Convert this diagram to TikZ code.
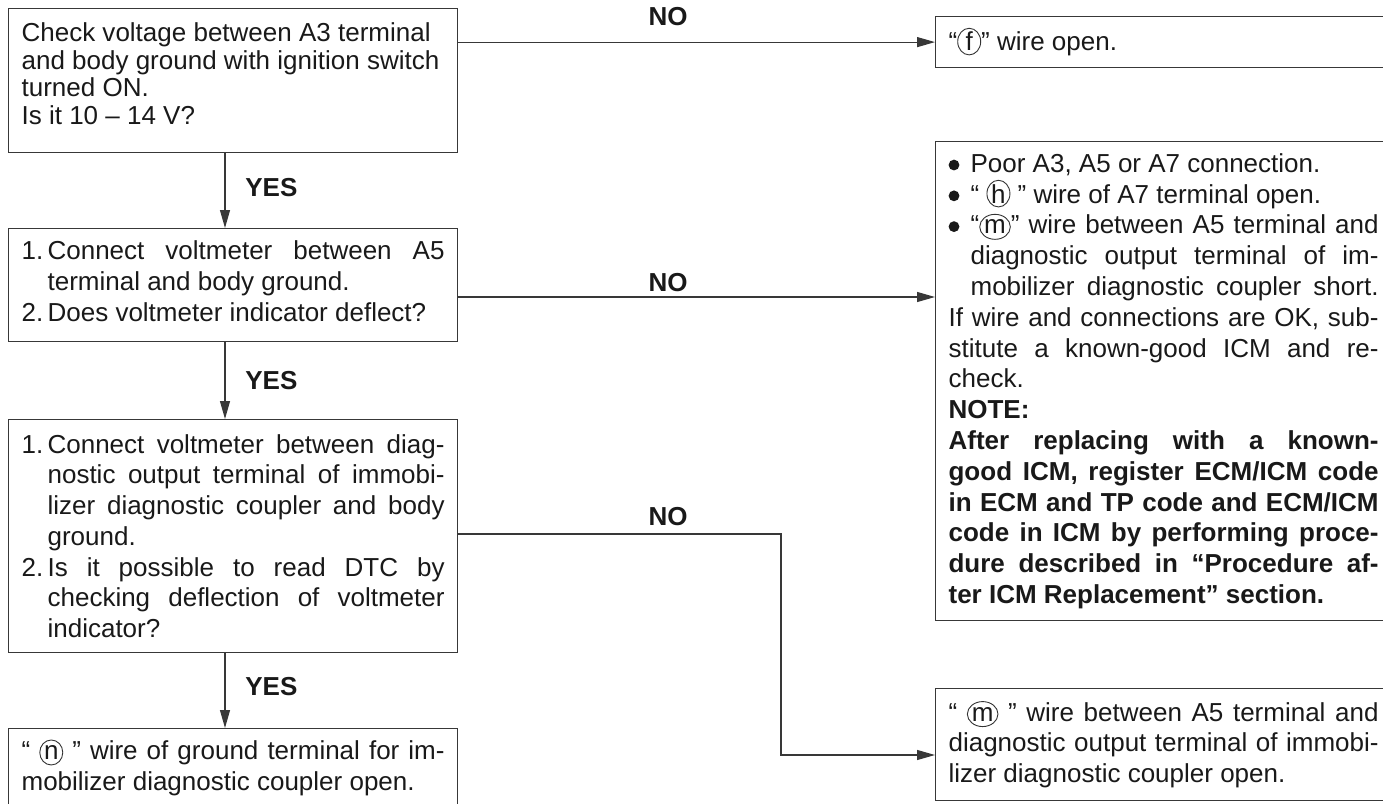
\documentclass[tikz,border=0pt]{standalone}
\usepackage{fontspec}
\setmainfont{Liberation Sans}
\usetikzlibrary{arrows.meta,calc,shapes.geometric}
\newlength{\lw}
\newcommand{\cletter}[1]{\tikz[baseline=(cl.base)]\node[draw=black!80,ellipse,inner sep=0pt,minimum width=11.5pt,minimum height=12.5pt,line width=0.45pt] (cl) {#1};}
\newcommand{\bul}{\tikz[baseline=-3.6pt]\fill[black!90] (0,0) circle (2.7pt);}
\newcommand{\lnJ}[1]{\hbox to \lw{#1}\par}
\newcommand{\lnR}[1]{\hbox to \lw{#1\hfil}\par}
\newcommand{\lnIJ}[3]{\hbox to \lw{\hbox to #1{#2\hfil}#3}\par}
\newcommand{\lnIR}[3]{\hbox to \lw{\hbox to #1{#2\hfil}#3\hfil}\par}
\begin{document}
\begin{tikzpicture}[x=0.5pt,y=-0.5pt,
  box/.style={draw=black!78,line width=0.6pt,anchor=north west,inner xsep=6.5pt,inner ysep=0pt,text=black!90,font=\fontsize{13}{15.4}\selectfont},
  lbox/.style={box,text width=211.5pt,execute at begin node={\parindent=0pt\parskip=0pt\lw=211.5pt\spaceskip=.278em plus .8em minus .1em}},
  rbox/.style={box,text width=215pt,execute at begin node={\parindent=0pt\parskip=0pt\lw=215pt\spaceskip=.278em plus .8em minus .1em}},
  arr/.style={draw=black!78,line width=0.6pt,-{Triangle[length=9pt,width=5pt]}},
  lab/.style={font=\fontsize{13}{15}\selectfont\bfseries,text=black!90,inner sep=0pt}]
\clip (0,0) rectangle (1383,804);
% left column
\node[lbox,minimum height=72pt,font=\fontsize{13}{13.9}\selectfont] (b1) at (8,8)
 {\lnR{Check voltage between A3 terminal}\lnR{and body ground with ignition switch}\lnR{turned ON.}\lnR{Is it 10 – 14 V?\rule[-7pt]{0pt}{0pt}}};
\node[lbox,minimum height=56.5pt] (b2) at (8,228)
 {\lnIJ{13pt}{1.}{Connect voltmeter between A5}\lnIR{13pt}{}{terminal and body ground.}\lnIR{13pt}{2.}{Does voltmeter indicator deflect?\rule[-4pt]{0pt}{0pt}}};
\node[lbox,minimum height=116.5pt] (b3) at (8,419)
 {\lnIJ{13pt}{1.}{Connect voltmeter between diag-}\lnIJ{13pt}{}{nostic output terminal of immobi-}\lnIJ{13pt}{}{lizer diagnostic coupler and body}\lnIR{13pt}{}{ground.}\lnIJ{13pt}{2.}{Is it possible to read DTC by}\lnIJ{13pt}{}{checking deflection of voltmeter}\lnIR{13pt}{}{indicator?}};
\node[lbox,minimum height=39pt] (b4) at (8,728)
 {\lnJ{“ \cletter{n} ” wire of ground terminal for im-}\lnR{mobilizer diagnostic coupler open.}};
% right column
\node[rbox,minimum height=25.5pt] (bf) at (935,16)
 {\lnR{“\cletter{f}” wire open.}};
\node[rbox,minimum height=239.5pt] (bbig) at (935,141)
 {\lnIR{11pt}{\bul}{Poor A3, A5 or A7 connection.}%
  \lnIR{11pt}{\bul}{“ \cletter{h} ” wire of A7 terminal open.}%
  \lnIJ{11pt}{\bul}{“\cletter{m}” wire between A5 terminal and}%
  \lnIJ{11pt}{}{diagnostic output terminal of im-}%
  \lnIJ{11pt}{}{mobilizer diagnostic coupler short.}%
  \lnJ{If wire and connections are OK, sub-}%
  \lnJ{stitute a known-good ICM and re-}%
  \lnR{check.}%
  \lnR{\bfseries NOTE:}%
  \lnJ{\bfseries After replacing with a known-}%
  \lnJ{\bfseries good ICM, register ECM/ICM code}%
  \lnJ{\bfseries in ECM and TP code and ECM/ICM}%
  \lnJ{\bfseries code in ICM by performing proce-}%
  \lnJ{\bfseries dure described in “Procedure af-}%
  \lnR{\bfseries ter ICM Replacement” section.}};
\node[rbox,minimum height=56pt] (bm) at (935,688)
 {\lnJ{“ \cletter{m} ” wire between A5 terminal and}\lnJ{diagnostic output terminal of immobi-}\lnR{lizer diagnostic coupler open.}};
% labels
\node[lab] (no1) at (668,17) {NO};
\node[lab] (no2) at (668,283) {NO};
\node[lab] (no3) at (668,517) {NO};
\node[lab,anchor=west] (yes1) at (245,188) {YES};
\node[lab,anchor=west] (yes2) at (245,381) {YES};
\node[lab,anchor=west] (yes3) at (245,687) {YES};
% connectors
\coordinate (xa) at (225,0);
\draw[arr] (xa |- b1.south) -- (xa |- b2.north);
\draw[arr] (xa |- b2.south) -- (xa |- b3.north);
\draw[arr] (xa |- b3.south) -- (xa |- b4.north);
\draw[arr] (b1.east |- bf.west) -- (bf.west);
\coordinate (r2) at (0,297);
\draw[arr] (b2.east |- r2) -- (bbig.west |- r2);
\coordinate (r3) at (0,534);
\coordinate (xv) at (781,0);
\coordinate (r4) at (0,755);
\draw[arr] (b3.east |- r3) -- (xv |- r3) -- (xv |- r4) -- (bm.west |- r4);
\end{tikzpicture}
\end{document}
